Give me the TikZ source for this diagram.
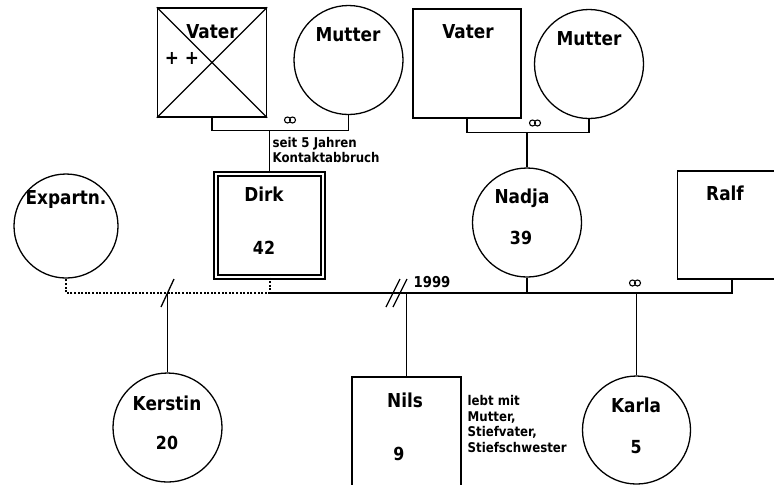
\documentclass[tikz,border=0pt]{standalone}
\usepackage{fontspec}
\setmainfont{DejaVu Sans}[FakeStretch=0.88]
\usetikzlibrary{calc}

\begin{document}
\begin{tikzpicture}[x=0.5pt,y=-0.5pt,line width=0.65pt,
  mann/.style={draw,rectangle,inner sep=0pt,minimum width=54.5pt,minimum height=54.5pt},
  frau/.style={draw,circle,inner sep=0pt,minimum size=54.5pt},
  vorname/.style={font=\bfseries\fontsize{9.6}{11}\selectfont,inner sep=0pt},
  alter/.style={font=\bfseries\fontsize{9}{11}\selectfont,inner sep=0pt},
  notiz/.style={font=\bfseries\fontsize{6.7}{7.9}\selectfont,inner sep=0pt,align=left},
  trennung/.style={line width=1pt,dash pattern=on 1pt off 0.8pt},
  ringe/.style={line width=0.55pt}]
\useasboundingbox (0,0) rectangle (774,484);

% Grosseltern
\node[mann] (vaterA) at (212,62.5) {};
\draw (vaterA.north west) -- (vaterA.south east) (vaterA.south west) -- (vaterA.north east);
\node[frau] (mutterA) at (348.5,60) {};
\node[mann,minimum width=54pt] (vaterB) at (467,63.5) {};
\node[frau] (mutterB) at (589,64) {};

\node[vorname] (tVaterA) at (212,32) {Vater};
\node[vorname] (tTot) at (182,58) {+ +};
\node[vorname] (tMutterA) at (348,35) {Mutter};
\node[vorname] (tVaterB) at (468,32) {Vater};
\node[vorname] (tMutterB) at (589,39) {Mutter};

% Eltern
\node[mann,double,double distance=1.4pt,minimum width=53.5pt,minimum height=51.5pt] (dirk) at (269.5,225.5) {};
\node[frau,minimum size=52pt] (expartn) at (66,226) {};
\node[frau] (nadja) at (527,222.5) {};
\node[mann,minimum height=54pt] (ralf) at (732,225) {};

\node[vorname] (tDirk) at (264,194) {Dirk};
\node[alter] (aDirk) at (264,248) {42};
\node[vorname] (tExpartn) at (66,199) {Expartn.};
\node[vorname] (tNadja) at (522,198) {Nadja};
\node[alter] (aNadja) at (521,238) {39};
\node[vorname] (tRalf) at (725,193) {Ralf};

% Kinder
\node[frau] (kerstin) at (167.5,427.5) {};
\node[mann] (nils) at (406.5,431.5) {};
\node[frau,minimum size=54pt] (karla) at (636.5,430) {};

\node[vorname] (tKerstin) at (167,403) {Kerstin};
\node[alter] (aKerstin) at (167,443) {20};
\node[vorname] (tNils) at (405,400) {Nils};
\node[alter] (aNils) at (399,454) {9};
\node[vorname] (tKarla) at (636,405) {Karla};
\node[alter] (aKarla) at (636,447) {5};

% Linien oben
\draw (vaterA.south) -- ++(0,13) coordinate (ehA) -| (mutterA.south);
\draw (ehA -| dirk.north) -- (dirk.north);
\draw (vaterB.south) -- ++(0,14) coordinate (ehB) -| (mutterB.south);
\draw (ehB -| nadja.north) -- (nadja.north);
\draw[ringe] (287.5,120) circle[radius=3] (292.5,120) circle[radius=3];
\draw[ringe] (532.5,123) circle[radius=3] (537.5,123) circle[radius=3];
\node[notiz,anchor=west] (tKontakt) at (272,150) {seit 5 Jahren\\Kontaktabbruch};

% Linien unten
\coordinate (ehD) at (269.5,293);
\draw[trennung] (dirk.south) -- (ehD) -- (ehD -| expartn.south) -- (expartn.south);
\draw (ehD) -- (ehD -| ralf.south) -- (ralf.south);
\draw (nadja.south) -- (nadja.south |- ehD);
\draw (kerstin.north) -- (kerstin.north |- ehD);
\draw (kerstin.north |- ehD) ++(-6.5,14) -- ++(13,-28);
\draw (nils.north) -- (nils.north |- ehD);
\draw (393,293) ++(-7,14) -- ++(14,-28);
\draw (400,293) ++(-7,14) -- ++(14,-28);
\draw (karla.north) -- (karla.north |- ehD);
\draw[ringe] (632.5,283) circle[radius=3] (637.5,283) circle[radius=3];
% \draw[trennung] (ralf.south) -- ++(0,14);
\node[notiz,anchor=west,font=\bfseries\fontsize{7.5}{9}\selectfont] (tJahr) at (413,282) {1999};
\node[notiz,anchor=west] (tNils2) at (467,424) {lebt mit\\Mutter,\\Stiefvater,\\Stiefschwester};

\end{tikzpicture}
\end{document}
